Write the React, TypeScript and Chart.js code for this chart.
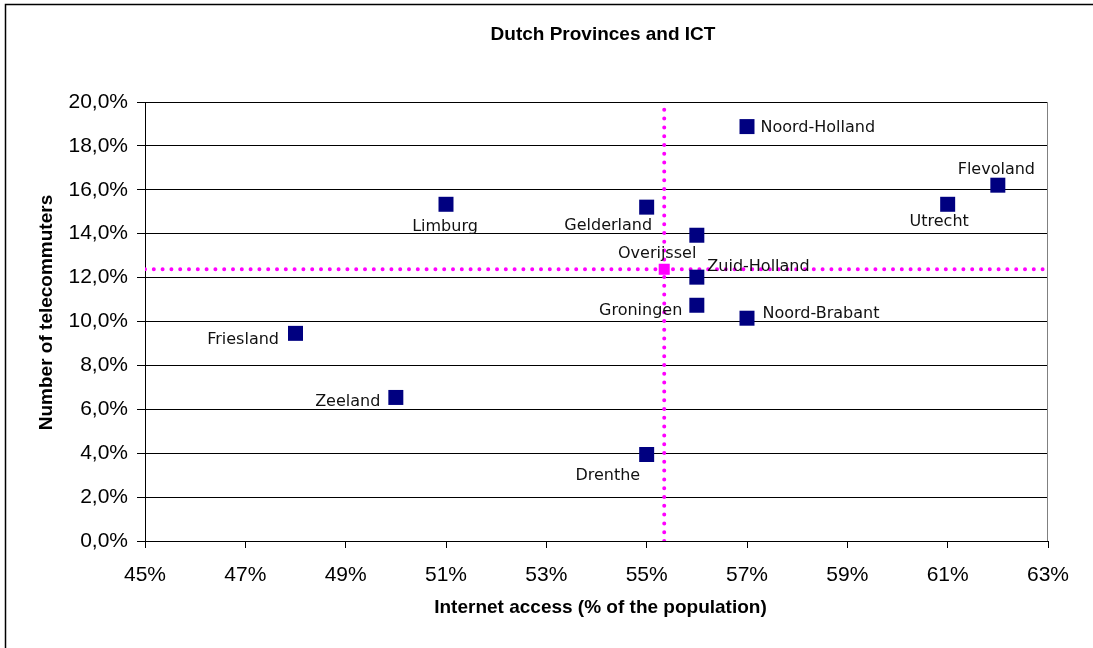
import { useEffect, useRef } from 'react';
import { Chart, registerables } from 'chart.js';

Chart.register(...registerables);

const provinces = [
  'Noord-Holland', 'Flevoland', 'Utrecht', 'Limburg', 'Gelderland', 'Overijssel',
  'Zuid-Holland', 'Groningen', 'Noord-Brabant', 'Friesland', 'Zeeland', 'Drenthe',
];
const internetAccess = [57, 62, 61, 51, 55, 56, 56, 56, 57, 48, 50, 55];
const telecommuters = [18.88, 16.21, 15.34, 15.34, 15.21, 13.93, 12.02, 10.74, 10.15, 9.46, 6.54, 3.94];
const meanInternet = 55.35;
const meanTelecommuters = 12.38;

const X_MIN = 45;
const X_MAX = 63;
const X_STEP = 2;
const Y_MIN = 0;
const Y_MAX = 20;
const Y_STEP = 2;

const chartTitle = 'Dutch Provinces and ICT';
const xAxisTitle = 'Internet access (% of the population)';
const yAxisTitle = 'Number of telecommuters';

// label placement (style only)
const labelPlacement: { align: CanvasTextAlign; dx: number; dy: number }[] = [
  { align: 'left', dx: 13.5, dy: 1 },
  { align: 'center', dx: -1.5, dy: -15.5 },
  { align: 'center', dx: -8.5, dy: 17.5 },
  { align: 'center', dx: -1, dy: 22.5 },
  { align: 'right', dx: 5.5, dy: 18.5 },
  { align: 'right', dx: -0.5, dy: 18.5 },
  { align: 'left', dx: 10.5, dy: -10.5 },
  { align: 'right', dx: -14.5, dy: 5.5 },
  { align: 'left', dx: 15.5, dy: -4.5 },
  { align: 'right', dx: -16.5, dy: 6.5 },
  { align: 'right', dx: -15.5, dy: 4.5 },
  { align: 'right', dx: -6.5, dy: 21.5 },
];

const ARIAL = 'Arial, "Liberation Sans", sans-serif';
const LABEL_FONT = '16px "DejaVu Sans", Verdana, sans-serif';

const decorPlugin = {
  id: 'decor',
  afterDatasetsDraw(chart: any) {
    const ctx = chart.ctx as CanvasRenderingContext2D;
    const meta = chart.getDatasetMeta(0);
    ctx.save();
    ctx.font = LABEL_FONT;
    ctx.fillStyle = '#111';
    ctx.textBaseline = 'middle';
    meta.data.forEach((pt: any, i: number) => {
      const p = labelPlacement[i];
      ctx.textAlign = p.align;
      ctx.fillText(provinces[i], pt.x + p.dx, pt.y + p.dy);
    });
    ctx.restore();
  },
  afterDraw(chart: any) {
    const ctx = chart.ctx as CanvasRenderingContext2D;
    const { left, right, top, bottom } = chart.chartArea;
    ctx.save();
    // right plot border
    ctx.strokeStyle = '#808080';
    ctx.lineWidth = 1;
    ctx.beginPath();
    ctx.moveTo(Math.round(right) - 0.5, top);
    ctx.lineTo(Math.round(right) - 0.5, bottom);
    ctx.stroke();
    // outer frame
    ctx.strokeStyle = '#000';
    ctx.lineWidth = 1.5;
    ctx.beginPath();
    ctx.moveTo(5.5, chart.height + 2);
    ctx.lineTo(5.5, 4.5);
    ctx.lineTo(chart.width + 2, 4.5);
    ctx.stroke();
    // titles
    ctx.fillStyle = '#000';
    ctx.textAlign = 'center';
    ctx.textBaseline = 'middle';
    ctx.font = `bold 19px ${ARIAL}`;
    const cx = (left + right) / 2;
    ctx.fillText(chartTitle, cx + 6.5, 35);
    ctx.fillText(xAxisTitle, cx + 4, 608);
    ctx.translate(47, (top + bottom) / 2 - 9);
    ctx.rotate(-Math.PI / 2);
    ctx.fillText(yAxisTitle, 0, 0);
    ctx.restore();
  },
};

export default function App() {
  const ref = useRef<HTMLCanvasElement | null>(null);
  useEffect(() => {
    if (!ref.current) return;
    const chart = new Chart(ref.current, {
      type: 'scatter',
      data: {
        datasets: [
          {
            label: 'Provinces',
            data: provinces.map((_, i) => ({ x: internetAccess[i], y: telecommuters[i] })),
            pointStyle: 'rect',
            pointRadius: 10.6,
            pointHoverRadius: 10.6,
            backgroundColor: '#000080',
            borderColor: '#000080',
            borderWidth: 0,
          },
          {
            label: 'Average',
            data: [{ x: meanInternet, y: meanTelecommuters }],
            pointStyle: 'rect',
            pointRadius: 7.8,
            pointHoverRadius: 7.8,
            backgroundColor: '#FF00FF',
            borderColor: '#FF00FF',
            borderWidth: 0,
          },
          {
            label: 'Average internet access',
            data: [{ x: meanInternet, y: Y_MIN }, { x: meanInternet, y: Y_MAX }],
            showLine: true,
            borderColor: '#FF00FF',
            borderWidth: 4,
            borderDash: [0, 8.8],
            borderCapStyle: 'round',
            pointRadius: 0,
            pointHoverRadius: 0,
          },
          {
            label: 'Average telecommuters',
            data: [{ x: X_MIN, y: meanTelecommuters }, { x: X_MAX, y: meanTelecommuters }],
            showLine: true,
            borderColor: '#FF00FF',
            borderWidth: 4,
            borderDash: [0, 8.8],
            borderCapStyle: 'round',
            pointRadius: 0,
            pointHoverRadius: 0,
          },
        ],
      } as any,
      options: {
        animation: false,
        responsive: false,
        devicePixelRatio: 1,
        layout: { padding: { top: 102, right: 45, left: 0, bottom: 0 } },
        plugins: {
          legend: { display: false },
          title: { display: false },
          tooltip: { enabled: false },
        },
        events: [],
        scales: {
          x: {
            type: 'linear',
            min: X_MIN,
            max: X_MAX,
            ticks: {
              stepSize: X_STEP,
              callback: (v: any) => `${v}%`,
              font: { family: ARIAL, size: 21 },
              color: '#000',
              padding: 15,
              maxRotation: 0,
            },
            grid: {
              display: true,
              drawOnChartArea: false,
              drawTicks: true,
              tickLength: 7,
              color: '#000',
            },
            border: { display: true, color: '#000', width: 1 },
            afterFit: (s: any) => { s.height = 107; },
          },
          y: {
            type: 'linear',
            min: Y_MIN,
            max: Y_MAX,
            ticks: {
              stepSize: Y_STEP,
              callback: (v: any) => `${Number(v).toFixed(1).replace('.', ',')}%`,
              font: { family: ARIAL, size: 21 },
              color: '#000',
              padding: 9,
            },
            grid: {
              display: true,
              drawOnChartArea: true,
              drawTicks: true,
              tickLength: 8,
              color: '#000',
            },
            border: { display: true, color: '#000', width: 1 },
            afterFit: (s: any) => { s.width = 145; },
          },
        },
      } as any,
      plugins: [decorPlugin],
    });
    return () => chart.destroy();
  }, []);
  return (
    <div style={{ position: 'fixed', left: 0, top: 0, width: 1093, height: 648, background: '#fff' }}>
      <canvas ref={ref} width={1093} height={648} style={{ display: 'block' }} />
    </div>
  );
}
